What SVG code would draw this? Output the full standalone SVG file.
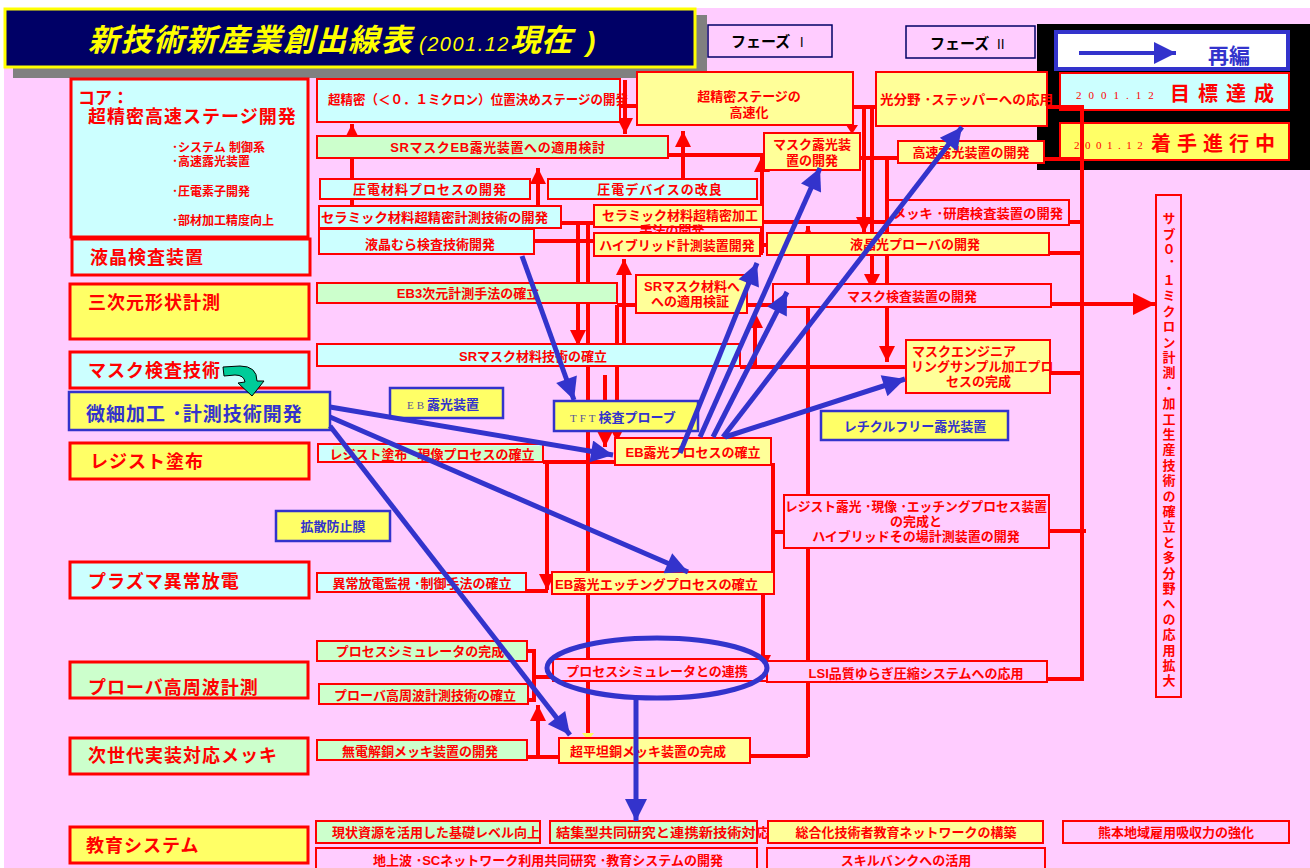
<svg xmlns="http://www.w3.org/2000/svg" width="1310" height="868" viewBox="0 0 1310 868">
<style>
.c{fill:#CCFFFF;stroke:#FF0000;stroke-width:2}
.g{fill:#CCFFCC;stroke:#FF0000;stroke-width:2}
.y{fill:#FFFF99;stroke:#FF0000;stroke-width:2}
.Y{fill:#FFFF66;stroke:#FF0000;stroke-width:3}
.C{fill:#CCFFFF;stroke:#FF0000;stroke-width:3}
.G{fill:#CCFFCC;stroke:#FF0000;stroke-width:3}
.p{fill:#FFCCFF;stroke:#FF0000;stroke-width:2}
.b{fill:#FFFF66;stroke:#3333CC;stroke-width:2.5}
.t{font-family:"Liberation Sans","Noto Sans CJK JP",sans-serif;font-weight:bold;font-size:13px;fill:#FF0000}
.m{text-anchor:middle}
.L{font-size:18px;letter-spacing:1px}
.s{font-size:12px}
.bt{fill:#3333CC}
.sf{font-family:"Liberation Serif","Noto Sans CJK JP",serif;font-weight:normal}
.rl{stroke:#FF0000;stroke-width:4;fill:none}
.bl{stroke:#3333CC;stroke-width:5;fill:none}
</style>
<defs>
<marker id="ar" viewBox="0 0 10 10" refX="10" refY="5" markerWidth="16" markerHeight="16" markerUnits="userSpaceOnUse" orient="auto"><path d="M0,0L10,5L0,10z" fill="#FF0000"/></marker>
<marker id="ar2" viewBox="0 0 10 10" refX="10" refY="5" markerWidth="22" markerHeight="22" markerUnits="userSpaceOnUse" orient="auto"><path d="M0,0L10,5L0,10z" fill="#FF0000"/></marker>
<marker id="ab" viewBox="0 0 10 10" refX="10" refY="5" markerWidth="24" markerHeight="22" markerUnits="userSpaceOnUse" orient="auto"><path d="M0,0L10,5L0,10z" fill="#3333CC"/></marker>
</defs>
<rect x="0" y="0" width="1310" height="868" fill="#FFFFFF"/>
<rect x="4" y="8" width="1306" height="860" fill="#FFCCFF"/>

<g id="title">
<rect x="13" y="15" width="694" height="63" fill="#808080"/>
<rect x="5" y="9" width="690" height="58" fill="#000066" stroke="#FFFF00" stroke-width="3"/>
<text x="88" y="51" font-family="'Liberation Sans','Noto Sans CJK JP',sans-serif" font-weight="bold" font-style="italic" fill="#FFFF00"><tspan font-size="31" letter-spacing="1.5">新技術新産業創出線表</tspan><tspan font-size="20" dx="6" font-weight="normal" letter-spacing="1.5">(2001.12</tspan><tspan font-size="31">現在</tspan><tspan font-size="28" dx="14">)</tspan></text>
</g>

<g id="phase1"><rect x="708" y="25" width="124" height="32" fill="none" stroke="#000066" stroke-width="1.5"/><text x="731" y="47" class="t" style="fill:#000;font-size:15px">フェーズ<tspan class="sf" font-size="13" dx="5">Ⅰ</tspan></text></g>
<g id="phase2"><rect x="906" y="26" width="129" height="32" fill="none" stroke="#000066" stroke-width="1.5"/><text x="930" y="49" class="t" style="fill:#000;font-size:15px">フェーズ<tspan class="sf" font-size="13" dx="5">Ⅱ</tspan></text></g>

<g id="legend">
<rect x="1037" y="24" width="273" height="146" fill="#000000"/>
<rect x="1056" y="32" width="232" height="37" fill="#FFFFFF" stroke="#3333CC" stroke-width="4"/>
<line x1="1079" y1="53" x2="1176" y2="53" stroke="#3333CC" stroke-width="4" marker-end="url(#ab)"/>
<text x="1208" y="63" class="t bt" style="font-size:21px">再編</text>
<rect x="1060" y="73" width="229" height="37" fill="#CCFFFF" stroke="#FF0000" stroke-width="2"/>
<text x="1076" y="99" class="t sf" style="font-size:11px;letter-spacing:7px">2001.12</text>
<text x="1170" y="101" class="t" style="font-size:20px;letter-spacing:8px">目標達成</text>
<rect x="1060" y="123" width="229" height="37" fill="#FFFF66" stroke="#FF0000" stroke-width="2"/>
<text x="1074" y="149" class="t sf" style="font-size:11px;letter-spacing:5.5px">2001.12</text>
<text x="1151" y="151" class="t" style="font-size:20px;letter-spacing:6px">着手進行中</text>
</g>

<g id="connectors">
<path class="rl" d="M352,207V124" marker-end="url(#ar)"/>
<path class="rl" d="M625,80V134" marker-end="url(#ar)"/>
<path class="rl" d="M620,106H637"/>
<path class="rl" d="M538,207V168" marker-end="url(#ar)"/>
<path class="rl" d="M683,179V131" marker-end="url(#ar)"/>
<path class="rl" d="M668,155H764"/>
<path class="rl" d="M762,253V156" marker-end="url(#ar)"/>
<path class="rl" d="M757,253H763"/>
<path class="rl" d="M760,222H888"/>
<path class="rl" d="M853,107H876"/>
<path class="rl" d="M860,158H898"/>
<path class="rl" d="M864,107V233" marker-end="url(#ar)"/>
<path class="rl" d="M872,107V290" marker-end="url(#ar)"/>
<path class="rl" d="M887,158V362" marker-end="url(#ar)"/>
<polygon points="846,125 858,125 852,134" fill="#FF0000"/>
<path class="rl" d="M1047,107H1082V680"/>
<path class="rl" d="M1044,159H1082"/>
<path class="rl" d="M1069,222H1082"/>
<path class="rl" d="M1049,253H1082"/>
<path class="rl" d="M1050,304H1155" marker-end="url(#ar2)"/>
<path class="rl" d="M1050,373H1082"/>
<path class="rl" d="M1049,531H1086"/>
<path class="rl" d="M1047,679H1084"/>
<path class="rl" d="M808,757V226" marker-end="url(#ar)"/>
<path class="rl" d="M750,756H808"/>
<path class="rl" d="M588,223V733"/>
<polygon points="582,733 594,733 588,741" fill="#FFFF66"/>
<path class="rl" d="M578,223V346" marker-end="url(#ar)"/>
<path class="rl" d="M534,241H594"/>
<path class="rl" d="M561,223H594"/>
<path class="rl" d="M760,245H767"/>
<path class="rl" d="M624,345V259" marker-end="url(#ar)"/>
<path class="rl" d="M617,305V442" marker-end="url(#ar)"/>
<path class="rl" d="M617,305H636"/>
<path class="rl" d="M605,375V447" marker-end="url(#ar)"/>
<path class="rl" d="M543,462H615"/>
<path class="rl" d="M547,462V590" marker-end="url(#ar)"/>
<path class="rl" d="M526,591H548"/>
<path class="rl" d="M771,465H773V592H774"/>
<path class="rl" d="M773,532H784"/>
<path class="rl" d="M763,594V671" marker-end="url(#ar)"/>
<path class="rl" d="M527,651H534V700H528"/>
<path class="rl" d="M534,677H553"/>
<path class="rl" d="M538,757V705" marker-end="url(#ar)"/>
<path class="rl" d="M527,757H559"/>
<path class="rl" d="M740,367H906"/>
<path class="rl" d="M739,344V367"/>
<path class="rl" d="M755,367V312" marker-end="url(#ar)"/>
<path class="rl" d="M747,305H773"/>
</g>

<g id="core"><rect x="71" y="79" width="237" height="158" class="C"/>
<text x="78" y="104" class="t" style="font-size:17px">コア：</text>
<text x="88" y="123" class="t" style="font-size:18px;letter-spacing:1px">超精密高速ステージ開発</text>
<text x="172" y="152" class="t s">･システム 制御系</text>
<text x="172" y="166" class="t s">･高速露光装置</text>
<text x="172" y="196" class="t s">･圧電素子開発</text>
<text x="172" y="225" class="t s">･部材加工精度向上</text></g>
<g id="lcd"><rect x="72" y="239" width="238" height="36" class="C"/><text x="90" y="264" class="t L">液晶検査装置</text></g>
<g id="shape3d"><rect x="70" y="284" width="239" height="55" class="Y"/><text x="88" y="309" class="t L">三次元形状計測</text></g>
<g id="maskinsp"><rect x="70" y="352" width="239" height="36" class="C"/><text x="88" y="377" class="t L">マスク検査技術</text></g>
<g id="microfab"><rect x="69" y="392" width="261" height="38" class="b"/><text x="86" y="421" class="t L bt" style="font-size:19px">微細加工 ･計測技術開発</text></g>
<g id="resist"><rect x="70" y="443" width="239" height="36" class="Y"/><text x="90" y="468" class="t L">レジスト塗布</text></g>
<g id="plasma"><rect x="70" y="562" width="239" height="36" class="C"/><text x="88" y="588" class="t L">プラズマ異常放電</text></g>
<g id="prober"><rect x="70" y="662" width="238" height="36" class="G"/><text x="88" y="694" class="t L">プローバ高周波計測</text></g>
<g id="plating"><rect x="70" y="738" width="238" height="36" class="G"/><text x="88" y="762" class="t L">次世代実装対応メッキ</text></g>
<g id="edu"><rect x="70" y="827" width="238" height="36" class="Y"/><text x="86" y="852" class="t L">教育システム</text></g>

<g id="n1"><rect x="317" y="79" width="303" height="43" class="c"/><text x="328" y="104" class="t" textLength="300" lengthAdjust="spacingAndGlyphs">超精密（＜０．１ミクロン）位置決めステージの開発</text></g>
<g id="n2"><rect x="637" y="72" width="216" height="53" class="y"/><text x="749" y="101" class="t m">超精密ステージの</text><text x="749" y="117" class="t m">高速化</text></g>
<g id="n3"><rect x="876" y="72" width="171" height="54" class="y"/><text x="880" y="104" class="t" textLength="173" lengthAdjust="spacingAndGlyphs">光分野 ･ステッパーへの応用</text></g>
<g id="n4"><rect x="317" y="136" width="351" height="22" class="g"/><text x="498" y="152" class="t m" style="letter-spacing:0.6px">SRマスクEB露光装置への適用検討</text></g>
<g id="n5"><rect x="764" y="133" width="96" height="37" class="y"/><text x="812" y="149" class="t m">マスク露光装</text><text x="812" y="165" class="t m">置の開発</text></g>
<g id="n6"><rect x="898" y="141" width="146" height="22" class="y"/><text x="971" y="157" class="t m">高速露光装置の開発</text></g>
<g id="n7"><rect x="320" y="179" width="210" height="20" class="c"/><text x="430" y="194" class="t m" style="letter-spacing:1px">圧電材料プロセスの開発</text></g>
<g id="n8"><rect x="548" y="179" width="209" height="20" class="c"/><text x="660" y="194" class="t m" style="letter-spacing:1px">圧電デバイスの改良</text></g>
<g id="n9"><rect x="319" y="206" width="242" height="22" class="c"/><text x="321" y="222" class="t" textLength="227" lengthAdjust="spacingAndGlyphs">セラミック材料超精密計測技術の開発</text></g>
<g id="n10"><rect x="319" y="229" width="215" height="25" class="c"/><text x="430" y="249" class="t m">液晶むら検査技術開発</text></g>
<g id="n11"><rect x="594" y="205" width="169" height="22" class="y"/><text x="680" y="220" class="t m">セラミック材料超精密加工</text><text x="672" y="235" class="t m">手法の開発</text></g>
<g id="n12"><rect x="594" y="233" width="166" height="23" class="y"/><text x="677" y="250" class="t m">ハイブリッド計測装置開発</text></g>
<g id="n13"><rect x="888" y="200" width="181" height="25" class="p"/><text x="893" y="218" class="t" textLength="170" lengthAdjust="spacingAndGlyphs">メッキ ･研磨検査装置の開発</text></g>
<g id="n14"><rect x="767" y="233" width="282" height="22" class="y"/><text x="915" y="249" class="t m">液晶光プローバの開発</text></g>
<g id="n15"><rect x="317" y="283" width="300" height="20" class="g"/><text x="468" y="298" class="t m">EB3次元計測手法の確立</text></g>
<g id="n16"><rect x="636" y="275" width="111" height="38" class="y"/><text x="692" y="291" class="t m">SRマスク材料へ</text><text x="690" y="306" class="t m">への適用検証</text></g>
<g id="n17"><rect x="773" y="284" width="278" height="23" class="p"/><text x="912" y="301" class="t m">マスク検査装置の開発</text></g>
<g id="n18"><rect x="906" y="340" width="144" height="53" class="y"/><text x="912" y="356" class="t">マスクエンジニア</text><text x="911" y="371" class="t">リングサンプル加工プロ</text><text x="946" y="386" class="t">セスの完成</text></g>
<g id="n19"><rect x="317" y="344" width="423" height="22" class="c"/><text x="533" y="361" class="t m">SRマスク材料技術の確立</text></g>
<g id="n20"><rect x="390" y="388" width="113" height="30" class="b"/><text x="407" y="409" class="t bt"><tspan class="sf" style="font-size:11px;letter-spacing:3px;fill:#555599">EB</tspan>露光装置</text></g>
<g id="n21"><rect x="554" y="401" width="144" height="30" class="b"/><text x="570" y="422" class="t bt"><tspan class="sf" style="font-size:11px;letter-spacing:3px;fill:#555599">TFT</tspan>検査プローブ</text></g>
<g id="n22"><rect x="318" y="444" width="225" height="18" class="c"/><rect x="333" y="446" width="209" height="14" fill="#CCFFCC"/><text x="432" y="459" class="t m">レジスト塗布 ･現像プロセスの確立</text></g>
<g id="n23"><rect x="615" y="438" width="156" height="27" class="y"/><text x="693" y="457" class="t m">EB露光プロセスの確立</text></g>
<g id="n24"><rect x="821" y="411" width="187" height="29" class="b"/><text x="915" y="431" class="t m bt">レチクルフリー露光装置</text></g>
<g id="n25"><rect x="784" y="495" width="265" height="53" class="p"/><text x="916" y="511" class="t m" textLength="262" lengthAdjust="spacingAndGlyphs">レジスト露光 ･現像 ･エッチングプロセス装置</text><text x="916" y="526" class="t m">の完成と</text><text x="916" y="541" class="t m">ハイブリッドその場計測装置の開発</text></g>
<g id="n26"><rect x="276" y="511" width="114" height="30" class="b"/><text x="333" y="531" class="t m bt">拡散防止膜</text></g>
<g id="n27"><rect x="317" y="573" width="209" height="19" class="c"/><text x="422" y="588" class="t m">異常放電監視 ･制御手法の確立</text></g>
<g id="n28"><rect x="552" y="572" width="222" height="22" class="y"/><text x="555" y="589" class="t" textLength="203" lengthAdjust="spacingAndGlyphs">EB露光エッチングプロセスの確立</text></g>
<g id="n29"><rect x="317" y="641" width="210" height="20" class="g"/><text x="420" y="656" class="t m">プロセスシミュレータの完成</text></g>
<g id="n30"><rect x="553" y="659" width="214" height="22" class="p"/><text x="657" y="676" class="t m">プロセスシミュレータとの連携</text></g>
<g id="n31"><rect x="767" y="661" width="280" height="21" class="p"/><text x="916" y="678" class="t m">LSI品質ゆらぎ圧縮システムへの応用</text></g>
<g id="n32"><rect x="319" y="684" width="209" height="20" class="g"/><text x="425" y="700" class="t m">プローバ高周波計測技術の確立</text></g>
<g id="n33"><rect x="317" y="740" width="210" height="20" class="g"/><text x="420" y="756" class="t m">無電解銅メッキ装置の開発</text></g>
<g id="n34"><rect x="559" y="738" width="191" height="25" class="y"/><text x="648" y="756" class="t m">超平坦銅メッキ装置の完成</text></g>
<g id="n35"><rect x="316" y="821" width="224" height="22" class="g"/><text x="436" y="837" class="t m">現状資源を活用した基礎レベル向上</text></g>
<g id="n36"><rect x="550" y="821" width="207" height="22" class="g"/><text x="556" y="837" class="t" textLength="214" lengthAdjust="spacingAndGlyphs">結集型共同研究と連携新技術対応</text></g>
<g id="n37"><rect x="768" y="821" width="275" height="22" class="y"/><text x="906" y="837" class="t m">総合化技術者教育ネットワークの構築</text></g>
<g id="n38"><rect x="1063" y="821" width="226" height="22" class="p"/><text x="1176" y="837" class="t m">熊本地域雇用吸収力の強化</text></g>
<g id="n39"><rect x="316" y="848" width="441" height="24" class="p"/><text x="548" y="865" class="t m">地上波 ･SCネットワーク利用共同研究 ･教育システムの開発</text></g>
<g id="n40"><rect x="767" y="848" width="278" height="24" class="p"/><text x="906" y="865" class="t m">スキルバンクへの活用</text></g>
<g id="n41"><rect x="1156" y="195" width="25" height="502" class="p"/><text x="1168" y="212" class="t" style="writing-mode:vertical-rl;letter-spacing:2.4px">サブ０．１ミクロン計測・加工生産技術の確立と多分野への応用拡大</text></g>

<g id="connectors-blue">
<path class="bl" d="M330,407L613,455" marker-end="url(#ab)"/>
<path class="bl" d="M330,417L688,572" marker-end="url(#ab)"/>
<path class="bl" d="M330,426L570,735" marker-end="url(#ab)"/>
<path class="bl" d="M522,256L574,400" marker-end="url(#ab)"/>
<path class="bl" d="M680,453L757,263" marker-end="url(#ab)"/>
<path class="bl" d="M700,437L820,168" marker-end="url(#ab)"/>
<path class="bl" d="M713,437L787,292" marker-end="url(#ab)"/>
<path class="bl" d="M723,437L962,127" marker-end="url(#ab)"/>
<path class="bl" d="M725,437L905,379" marker-end="url(#ab)"/>
<ellipse cx="657" cy="668" rx="110" ry="30" class="bl"/>
<path class="bl" d="M636,698V821" marker-end="url(#ab)"/>
</g>
<g id="green-arrow"><path d="M223,367L240,366Q257,366 257,381L264,381L252,396L238,383L245,382Q244,375 235,375L224,376Z" fill="#00CC99" stroke="#000" stroke-width="1"/></g>
</svg>
